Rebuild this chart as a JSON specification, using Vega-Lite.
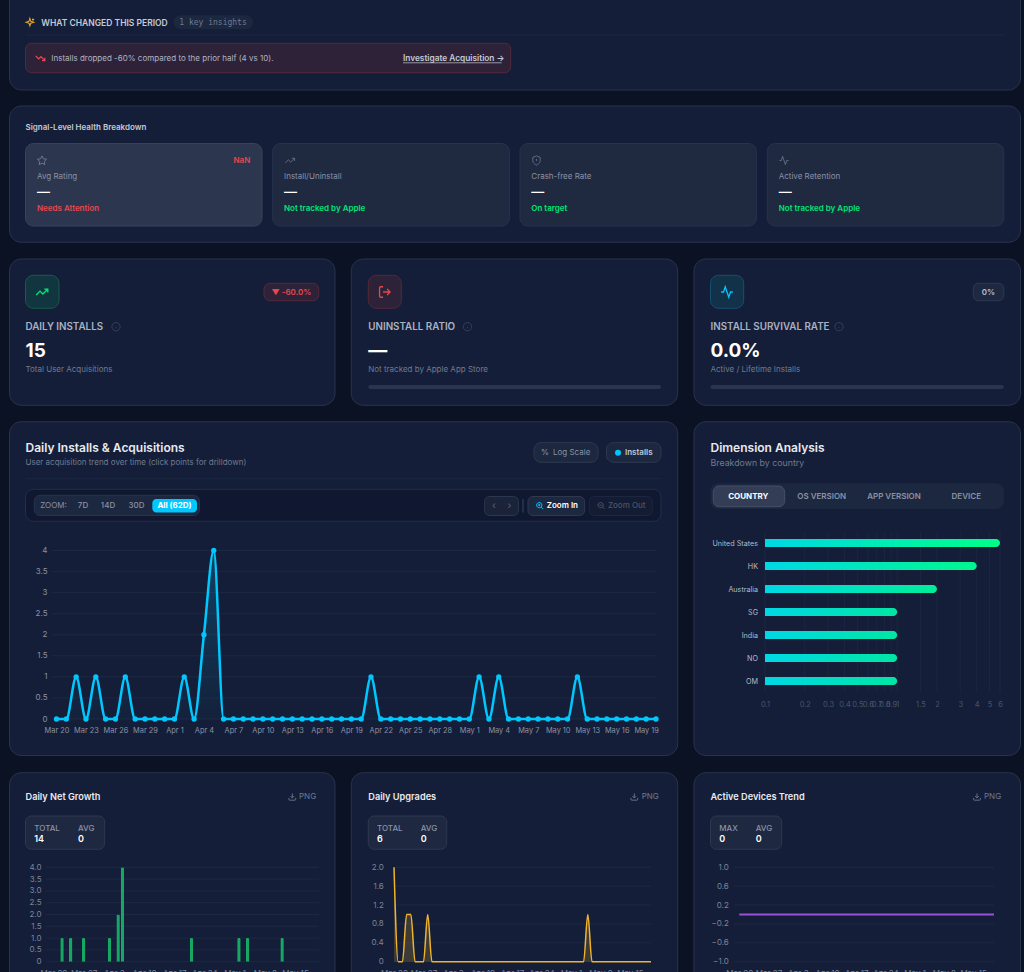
{
"$schema":"https://vega.github.io/schema/vega-lite/v6.json",
"width":1024,"height":972,"autosize":{"type":"none"},"padding":0,"background":"#0b1224",
"config":{
"view":{"stroke":null},
"text":{"font":"Inter","baseline":"middle","align":"left","fontSize":8,"dy":0.6},
"axis":{"labelFont":"Inter","labelFontSize":8,"labelColor":"#7c8598","domain":false,"ticks":false,"grid":false,"title":null,"labelOverlap":false,"labelBound":false,"labelFlush":false}
},
"datasets":{
"daily":[
{"date":"2025-03-20","installs":0,"upgrades":2,"active":0},{"date":"2025-03-21","installs":0,"upgrades":0,"active":0},{"date":"2025-03-22","installs":1,"upgrades":0,"active":0},{"date":"2025-03-23","installs":0,"upgrades":1,"active":0},{"date":"2025-03-24","installs":1,"upgrades":1,"active":0},{"date":"2025-03-25","installs":0,"upgrades":0,"active":0},{"date":"2025-03-26","installs":0,"upgrades":0,"active":0},{"date":"2025-03-27","installs":1,"upgrades":0,"active":0},{"date":"2025-03-28","installs":0,"upgrades":1,"active":0},{"date":"2025-03-29","installs":0,"upgrades":0,"active":0},{"date":"2025-03-30","installs":0,"upgrades":0,"active":0},{"date":"2025-03-31","installs":0,"upgrades":0,"active":0},
{"date":"2025-04-01","installs":0,"upgrades":0,"active":0},{"date":"2025-04-02","installs":1,"upgrades":0,"active":0},{"date":"2025-04-03","installs":0,"upgrades":0,"active":0},{"date":"2025-04-04","installs":2,"upgrades":0,"active":0},{"date":"2025-04-05","installs":4,"upgrades":0,"active":0},{"date":"2025-04-06","installs":0,"upgrades":0,"active":0},{"date":"2025-04-07","installs":0,"upgrades":0,"active":0},{"date":"2025-04-08","installs":0,"upgrades":0,"active":0},{"date":"2025-04-09","installs":0,"upgrades":0,"active":0},{"date":"2025-04-10","installs":0,"upgrades":0,"active":0},{"date":"2025-04-11","installs":0,"upgrades":0,"active":0},{"date":"2025-04-12","installs":0,"upgrades":0,"active":0},{"date":"2025-04-13","installs":0,"upgrades":0,"active":0},{"date":"2025-04-14","installs":0,"upgrades":0,"active":0},{"date":"2025-04-15","installs":0,"upgrades":0,"active":0},{"date":"2025-04-16","installs":0,"upgrades":0,"active":0},{"date":"2025-04-17","installs":0,"upgrades":0,"active":0},{"date":"2025-04-18","installs":0,"upgrades":0,"active":0},{"date":"2025-04-19","installs":0,"upgrades":0,"active":0},{"date":"2025-04-20","installs":0,"upgrades":0,"active":0},{"date":"2025-04-21","installs":1,"upgrades":0,"active":0},{"date":"2025-04-22","installs":0,"upgrades":0,"active":0},{"date":"2025-04-23","installs":0,"upgrades":0,"active":0},{"date":"2025-04-24","installs":0,"upgrades":0,"active":0},{"date":"2025-04-25","installs":0,"upgrades":0,"active":0},{"date":"2025-04-26","installs":0,"upgrades":0,"active":0},{"date":"2025-04-27","installs":0,"upgrades":0,"active":0},{"date":"2025-04-28","installs":0,"upgrades":0,"active":0},{"date":"2025-04-29","installs":0,"upgrades":0,"active":0},{"date":"2025-04-30","installs":0,"upgrades":0,"active":0},
{"date":"2025-05-01","installs":0,"upgrades":0,"active":0},{"date":"2025-05-02","installs":1,"upgrades":0,"active":0},{"date":"2025-05-03","installs":0,"upgrades":0,"active":0},{"date":"2025-05-04","installs":1,"upgrades":0,"active":0},{"date":"2025-05-05","installs":0,"upgrades":1,"active":0},{"date":"2025-05-06","installs":0,"upgrades":0,"active":0},{"date":"2025-05-07","installs":0,"upgrades":0,"active":0},{"date":"2025-05-08","installs":0,"upgrades":0,"active":0},{"date":"2025-05-09","installs":0,"upgrades":0,"active":0},{"date":"2025-05-10","installs":0,"upgrades":0,"active":0},{"date":"2025-05-11","installs":0,"upgrades":0,"active":0},{"date":"2025-05-12","installs":1,"upgrades":0,"active":0},{"date":"2025-05-13","installs":0,"upgrades":0,"active":0},{"date":"2025-05-14","installs":0,"upgrades":0,"active":0},{"date":"2025-05-15","installs":0,"upgrades":0,"active":0},{"date":"2025-05-16","installs":0,"upgrades":0,"active":0},{"date":"2025-05-17","installs":0,"upgrades":0,"active":0},{"date":"2025-05-18","installs":0,"upgrades":0,"active":0},{"date":"2025-05-19","installs":0,"upgrades":0,"active":0},{"date":"2025-05-20","installs":0,"upgrades":0,"active":0}
],
"countries":[{"country":"United States","value":6},{"country":"HK","value":4},{"country":"Australia","value":2},{"country":"SG","value":1},{"country":"India","value":1},{"country":"NO","value":1},{"country":"OM","value":1}]
},
"resolve":{"scale":{"x":"independent","y":"independent"},"axis":{"x":"independent","y":"independent"}},
"layer":[
{
"data":{"values":[{"col":0,"row":0}]},
"encoding":{
"x":{"field":"col","type":"quantitative","axis":null,"scale":{"nice":false,"zero":false,
"domain":[0,1,2,3,4,5,6,7,8,9,10,11,12,13,14,15,16,17,18,19,20,21,22,23,24,25,26,27,28,29,30,31,32,33,34,35,36,37,38,39,40,41,42,43,44,45,46,47,48,49,50,51,52,53,54,55,56,57,58,59,60,61,62,63,64,65,66,67,68,69,70,71,72,73,74,75,76,77,78,79,80,81,82,83,84,85,86,87,88,89,90,91,92,93,94,95],
"range":[9.5,25.5,30.3,34.3,37,40.3,41.3,42,51.3,59,78,83,104.7,108,116,136.5,152.3,173.7,174.5,179.3,197,199.5,250.3,253,262,264,272.7,284,290,291.4,292.3,299,318.7,335,351.3,368.3,377,384.8,401.3,403,420.7,446.7,467.5,484.6,494,501.7,509.4,510.7,518.4,520,523,528,531.3,534,536.5,539.6,545,546.7,553,584.6,589.4,598,601,606.5,607.9,618,625,634.3,641.7,652.4,661,677.7,694,710.5,713.3,719.3,727,743.7,748.3,755.7,756.3,767.3,778.7,781.7,784,784.7,821.7,839,894,966.3,973.3,977,984,988.5,1003.8,1020.5]}},
"y":{"field":"row","type":"quantitative","axis":null,"scale":{"nice":false,"zero":false,
"domain":[0,1,2,3,4,5,6,7,8,9,10,11,12,13,14,15,16,17,18,19,20,21,22,23,24,25,26,27,28,29,30,31,32,33,34,35,36,37,38,39,40,41,42,43,44,45,46,47,48,49,50,51,52,53,54,55,56],
"range":[-20,15.3,22,29.3,35,43.3,58.3,62.8,72.7,90,106,127.7,143.5,160.5,176.5,191.5,208.8,226,242.3,259,275.3,283.3,292,300.7,308.3,326.7,350.5,369,385,389,405.3,421.7,442.7,447.3,452.7,462.3,478.7,483.3,486,489.3,495.3,496.5,499,505.5,506.7,509,512.5,515.5,521.3,755.5,772.7,796.8,816,828,838.7,849.3,1000]}}
},
"layer":[
{"encoding":{"x2":{"field":"col2"},"y2":{"field":"row2"}},"layer":[
{"data":{"values":[{"name":"insights","col":0,"col2":95,"row":0,"row2":9},{"name":"signals","col":0,"col2":95,"row":10,"row2":18},{"name":"installs kpi","col":0,"col2":33,"row":19,"row2":30},{"name":"uninstall kpi","col":34,"col2":71,"row":19,"row2":30},{"name":"survival kpi","col":72,"col2":95,"row":19,"row2":30},{"name":"main chart","col":0,"col2":71,"row":31,"row2":49},{"name":"dimension","col":72,"col2":95,"row":31,"row2":49},{"name":"net growth","col":0,"col2":33,"row":50,"row2":56},{"name":"upgrades","col":34,"col2":71,"row":50,"row2":56},{"name":"devices","col":72,"col2":95,"row":50,"row2":56}]},"mark":{"type":"rect","fill":"#141e38","stroke":"#28334d","strokeWidth":1,"cornerRadius":12}},
{"data":{"values":[{"name":"alert","col":1,"col2":47,"row":5,"row2":8},{"name":"delta","col":25,"col2":32,"row":21,"row2":23}]},"mark":{"type":"rect","fill":"#2e2238","stroke":"#55293d","strokeWidth":1,"cornerRadius":6}},
{"data":{"values":[{"name":"pill","col":17,"col2":23,"row":1,"row2":3}]},"mark":{"type":"rect","fill":"#1c2740","cornerRadius":7}},
{"data":{"values":[{"name":"rating","col":1,"col2":24,"row":12,"row2":17}]},"mark":{"type":"rect","fill":"#2c364e","stroke":"#38425a","cornerRadius":8}},
{"data":{"values":[{"name":"ratio","col":26,"col2":46,"row":12,"row2":17},{"name":"crash","col":49,"col2":80,"row":12,"row2":17},{"name":"retention","col":81,"col2":94,"row":12,"row2":17}]},"mark":{"type":"rect","fill":"#1f2940","stroke":"#283350","cornerRadius":8}},
{"data":{"values":[{"name":"green tile","col":1,"col2":9,"row":20,"row2":24}]},"mark":{"type":"rect","fill":"#12363f","stroke":"#1a5a4c","cornerRadius":8}},
{"data":{"values":[{"name":"red tile","col":35,"col2":38,"row":20,"row2":24}]},"mark":{"type":"rect","fill":"#2d2238","stroke":"#55283a","cornerRadius":8}},
{"data":{"values":[{"name":"blue tile","col":73,"col2":77,"row":20,"row2":24}]},"mark":{"type":"rect","fill":"#12324a","stroke":"#17506e","cornerRadius":8}},
{"data":{"values":[{"name":"zero badge","col":90,"col2":94,"row":21,"row2":23}]},"mark":{"type":"rect","fill":"#1e2840","stroke":"#2e3950","cornerRadius":5}},
{"data":{"values":[{"name":"track b","col":35,"col2":70,"row":28,"row2":29},{"name":"track c","col":73,"col2":94,"row":28,"row2":29}]},"mark":{"type":"rect","fill":"#2a3450","cornerRadius":2}},
{"data":{"values":[{"name":"log","col":53,"col2":61,"row":32,"row2":35},{"name":"series","col":63,"col2":70,"row":32,"row2":35}]},"mark":{"type":"rect","fill":"#1c2740","stroke":"#2e3950","cornerRadius":7}},
{"data":{"values":[{"name":"toolbar","col":1,"col2":70,"row":39,"row2":48}]},"mark":{"type":"rect","fill":"#0f1830","stroke":"#232e48","cornerRadius":8}},
{"data":{"values":[{"name":"zoom group","col":3,"col2":21,"row":40,"row2":47}]},"mark":{"type":"rect","fill":"#1c2740","stroke":"#283350","cornerRadius":6}},
{"data":{"values":[{"name":"all","col":16,"col2":20,"row":42,"row2":46}]},"mark":{"type":"rect","fill":"#00c8ff","cornerRadius":4}},
{"data":{"values":[{"name":"pager","col":43,"col2":48,"row":41,"row2":47}]},"mark":{"type":"rect","fill":"#1a2338","stroke":"#2b3650","cornerRadius":5}},
{"data":{"values":[{"name":"sep","col":50,"col2":50,"row":42,"row2":46}]},"mark":{"type":"rect","stroke":"#2b3650"}},
{"data":{"values":[{"name":"zoom in","col":51,"col2":59,"row":41,"row2":47}]},"mark":{"type":"rect","fill":"#1c2740","stroke":"#2e3950","cornerRadius":5}},
{"data":{"values":[{"name":"zoom out","col":60,"col2":69,"row":41,"row2":47}]},"mark":{"type":"rect","fill":"#131c33","stroke":"#1c2640","cornerRadius":5}},
{"data":{"values":[{"name":"tabs","col":73,"col2":94,"row":37,"row2":45}]},"mark":{"type":"rect","fill":"#1c2740","cornerRadius":8}},
{"data":{"values":[{"name":"tab on","col":74,"col2":85,"row":38,"row2":44}]},"mark":{"type":"rect","fill":"#333d56","stroke":"#454f68","cornerRadius":6}},
{"data":{"values":[{"name":"stat a","col":1,"col2":12,"row":52,"row2":55},{"name":"stat b","col":35,"col2":41,"row":52,"row2":55},{"name":"stat c","col":73,"col2":83,"row":52,"row2":55}]},"mark":{"type":"rect","fill":"#1e2840","stroke":"#2e3950","cornerRadius":6}}
]},
{"encoding":{"x2":{"field":"col2"}},"layer":[
{"data":{"values":[{"name":"insights rule","col":1,"col2":94,"row":4},{"name":"main rule","col":1,"col2":70,"row":36}]},"mark":{"type":"rule","color":"#1c2740","strokeWidth":1}},
{"data":{"values":[{"name":"link underline","col":39,"col2":45,"row":7}]},"mark":{"type":"rule","color":"#c5cad6","strokeWidth":0.7}}
]},
{"encoding":{"text":{"field":"label"}},"layer":[
{"data":{"values":[{"label":"WHAT CHANGED THIS PERIOD","col":6,"row":2}]},"mark":{"type":"text","fontSize":8.5,"fontWeight":600,"color":"#c5cad6"}},
{"data":{"values":[{"label":"Investigate Acquisition →","col":39,"row":6}]},"mark":{"type":"text","fontSize":8.3,"fontWeight":600,"color":"#c5cad6"}},
{"data":{"values":[{"label":"Signal-Level Health Breakdown","col":1,"row":11}]},"mark":{"type":"text","fontWeight":600,"color":"#c5cad6"}},
{"data":{"values":[{"label":"1 key insights","col":19,"row":2}]},"mark":{"type":"text","font":"DejaVu Sans Mono","color":"#6f7a90"}},
{"data":{"values":[{"label":"Installs dropped -60% compared to the prior half (4 vs 10).","col":8,"row":6}]},"mark":{"type":"text","color":"#aeb4c4"}},
{"data":{"values":[{"label":"Avg Rating","col":4,"row":14},{"label":"Install/Uninstall","col":27,"row":14},{"label":"Crash-free Rate","col":52,"row":14},{"label":"Active Retention","col":82,"row":14},{"label":"Log Scale","col":58,"row":34},{"label":"ZOOM:","col":5,"row":43}]},"mark":{"type":"text","color":"#8a92a6"}},
{"data":{"values":[{"label":"—","col":4,"row":15},{"label":"—","col":27,"row":15},{"label":"—","col":52,"row":15},{"label":"—","col":82,"row":15}]},"mark":{"type":"text","fontSize":13,"fontWeight":600,"color":"#ffffff"}},
{"data":{"values":[{"label":"Needs Attention","col":4,"row":16}]},"mark":{"type":"text","fontWeight":600,"color":"#e5484d"}},
{"data":{"values":[{"label":"NaN","col":22,"row":13}]},"mark":{"type":"text","align":"right","fontWeight":600,"color":"#e5484d"}},
{"data":{"values":[{"label":"▼ -60.0%","col":29,"row":22}]},"mark":{"type":"text","align":"center","fontWeight":600,"color":"#e5484d"}},
{"data":{"values":[{"label":"0%","col":93,"row":22}]},"mark":{"type":"text","align":"center","fontWeight":600,"color":"#b8bfcc"}},
{"data":{"values":[{"label":"Not tracked by Apple","col":27,"row":16},{"label":"On target","col":52,"row":16},{"label":"Not tracked by Apple","col":82,"row":16}]},"mark":{"type":"text","fontWeight":600,"color":"#00e676"}},
{"data":{"values":[{"label":"DAILY INSTALLS","col":1,"row":25},{"label":"UNINSTALL RATIO","col":35,"row":25},{"label":"INSTALL SURVIVAL RATE","col":73,"row":25}]},"mark":{"type":"text","fontSize":9.8,"fontWeight":600,"color":"#aab2c2"}},
{"data":{"values":[{"label":"15","col":1,"row":26},{"label":"—","col":35,"row":26},{"label":"0.0%","col":73,"row":26}]},"mark":{"type":"text","fontSize":19,"fontWeight":700,"color":"#ffffff"}},
{"data":{"values":[{"label":"Total User Acquisitions","col":1,"row":27},{"label":"Not tracked by Apple App Store","col":35,"row":27},{"label":"Active / Lifetime Installs","col":73,"row":27},{"label":"User acquisition trend over time (click points for drilldown)","col":1,"row":35},{"label":"PNG","col":31,"row":51},{"label":"PNG","col":68,"row":51},{"label":"PNG","col":92,"row":51}]},"mark":{"type":"text","color":"#6f7a90"}},
{"data":{"values":[{"label":"Breakdown by country","col":73,"row":35}]},"mark":{"type":"text","fontSize":8.8,"color":"#6f7a90"}},
{"data":{"values":[{"label":"Daily Installs & Acquisitions","col":1,"row":33},{"label":"Dimension Analysis","col":73,"row":33}]},"mark":{"type":"text","fontSize":12,"fontWeight":600,"color":"#e8eaf0"}},
{"data":{"values":[{"label":"Installs","col":66,"row":34}]},"mark":{"type":"text","fontWeight":600,"color":"#c5cad6"}},
{"data":{"values":[{"label":"OS VERSION","col":86,"row":41},{"label":"APP VERSION","col":88,"row":41},{"label":"DEVICE","col":89,"row":41}]},"mark":{"type":"text","align":"center","fontWeight":600,"color":"#8a92a6"}},
{"data":{"values":[{"label":"7D","col":11,"row":43},{"label":"14D","col":13,"row":43},{"label":"30D","col":15,"row":43},{"label":"%","col":56,"row":34}]},"mark":{"type":"text","align":"center","fontWeight":500,"color":"#8a92a6"}},
{"data":{"values":[{"label":"COUNTRY","col":78,"row":41},{"label":"All (62D)","col":18,"row":43}]},"mark":{"type":"text","align":"center","fontWeight":700,"color":"#ffffff"}},
{"data":{"values":[{"label":"‹","col":44,"row":43},{"label":"›","col":46,"row":43}]},"mark":{"type":"text","align":"center","fontSize":10,"color":"#5a6478"}},
{"data":{"values":[{"label":"Zoom In","col":57,"row":43}]},"mark":{"type":"text","fontWeight":600,"color":"#ffffff"}},
{"data":{"values":[{"label":"Zoom Out","col":64,"row":43}]},"mark":{"type":"text","fontWeight":500,"color":"#4a5468"}},
{"data":{"values":[{"label":"Daily Net Growth","col":1,"row":51},{"label":"Daily Upgrades","col":35,"row":51},{"label":"Active Devices Trend","col":73,"row":51}]},"mark":{"type":"text","fontSize":9.2,"fontWeight":600,"color":"#e8eaf0"}},
{"data":{"values":[{"label":"TOTAL","col":3,"row":53},{"label":"AVG","col":10,"row":53},{"label":"TOTAL","col":36,"row":53},{"label":"AVG","col":40,"row":53},{"label":"MAX","col":75,"row":53},{"label":"AVG","col":79,"row":53}]},"mark":{"type":"text","fontWeight":500,"color":"#8a92a6"}},
{"data":{"values":[{"label":"14","col":3,"row":54},{"label":"0","col":10,"row":54},{"label":"6","col":36,"row":54},{"label":"0","col":40,"row":54},{"label":"0","col":75,"row":54},{"label":"0","col":79,"row":54}]},"mark":{"type":"text","fontSize":9,"fontWeight":600,"color":"#ffffff"}}
]},
{"layer":[
{"data":{"values":[{"icon":"sparkles","col":2,"row":2}]},"mark":{"type":"point","shape":"M-0.1 -0.8 L0.1 -0.15 L0.75 0.05 L0.1 0.25 L-0.1 0.85 L-0.3 0.25 L-0.9 0.05 L-0.3 -0.15 Z M0.6 -0.8 L0.6 -0.3 M0.35 -0.55 L0.85 -0.55","size":81,"filled":false,"stroke":"#e6a823","strokeWidth":1.1,"opacity":1}},
{"data":{"values":[{"icon":"alert trend","col":5,"row":6}]},"mark":{"type":"point","shape":"M0.83 0.42 L0.125 -0.29 L-0.29 0.125 L-0.83 -0.42 M0.33 0.42 L0.83 0.42 L0.83 -0.08","size":121,"filled":false,"stroke":"#e5484d","strokeWidth":1.2,"opacity":1}},
{"data":{"values":[{"icon":"star","col":7,"row":13}]},"mark":{"type":"point","shape":"M0 -0.83 L0.26 -0.31 L0.83 -0.23 L0.42 0.18 L0.52 0.75 L0 0.48 L-0.52 0.75 L-0.42 0.18 L-0.83 -0.23 L-0.26 -0.31 Z","size":121,"filled":false,"stroke":"#7c8598","strokeWidth":0.8,"opacity":1}},
{"data":{"values":[{"icon":"trend","col":28,"row":13}]},"mark":{"type":"point","shape":"M0.83 -0.42 L0.125 0.29 L-0.29 -0.125 L-0.83 0.42 M0.33 -0.42 L0.83 -0.42 L0.83 0.08","size":121,"filled":false,"stroke":"#6f7a90","strokeWidth":0.8,"opacity":1}},
{"data":{"values":[{"icon":"shield","col":54,"row":13}]},"mark":{"type":"point","shape":"M0 0.83 C0.6 0.55 0.67 0.2 0.67 0 L0.67 -0.58 L0 -0.83 L-0.67 -0.58 L-0.67 0 C-0.67 0.2 -0.6 0.55 0 0.83 Z M0 -0.3 L0 0.08 M0 0.35 L0 0.37","size":121,"filled":false,"stroke":"#6f7a90","strokeWidth":0.8,"opacity":1}},
{"data":{"values":[{"icon":"activity","col":84,"row":13}]},"mark":{"type":"point","shape":"M0.83 0 L0.5 0 L0.25 0.75 L-0.25 -0.75 L-0.5 0 L-0.83 0","size":121,"filled":false,"stroke":"#6f7a90","strokeWidth":0.8,"opacity":1}},
{"data":{"values":[{"icon":"installs","col":7,"row":22}]},"mark":{"type":"point","shape":"M0.83 -0.42 L0.125 0.29 L-0.29 -0.125 L-0.83 0.42 M0.33 -0.42 L0.83 -0.42 L0.83 0.08","size":196,"filled":false,"stroke":"#00e676","strokeWidth":1.3,"opacity":1}},
{"data":{"values":[{"icon":"uninstall","col":37,"row":22}]},"mark":{"type":"point","shape":"M-0.25 0.75 L-0.58 0.75 Q-0.75 0.75 -0.75 0.58 L-0.75 -0.58 Q-0.75 -0.75 -0.58 -0.75 L-0.25 -0.75 M0.33 0.42 L0.75 0 L0.33 -0.42 M0.75 0 L-0.25 0","size":196,"filled":false,"stroke":"#e5484d","strokeWidth":1.3,"opacity":1}},
{"data":{"values":[{"icon":"survival","col":76,"row":22}]},"mark":{"type":"point","shape":"M0.83 0 L0.5 0 L0.25 0.75 L-0.25 -0.75 L-0.5 0 L-0.83 0","size":196,"filled":false,"stroke":"#00c8ff","strokeWidth":1.3,"opacity":1}},
{"data":{"values":[{"icon":"info","col":14,"row":25},{"icon":"info","col":42,"row":25},{"icon":"info","col":87,"row":25}]},"mark":{"type":"point","shape":"M0.83 0 A0.83 0.83 0 1 1 -0.83 0 A0.83 0.83 0 1 1 0.83 0 Z M0 0.33 L0 0 M0 -0.33 L0.01 -0.33","size":100,"filled":false,"stroke":"#3c4660","strokeWidth":0.8,"opacity":1}},
{"data":{"values":[{"icon":"download","col":30,"row":51},{"icon":"download","col":67,"row":51},{"icon":"download","col":91,"row":51}]},"mark":{"type":"point","shape":"M-0.75 0.25 L-0.75 0.58 Q-0.75 0.75 -0.58 0.75 L0.58 0.75 Q0.75 0.75 0.75 0.58 L0.75 0.25 M-0.42 -0.17 L0 0.25 L0.42 -0.17 M0 0.25 L0 -0.75","size":81,"filled":false,"stroke":"#6f7a90","strokeWidth":0.9,"opacity":1}},
{"data":{"values":[{"icon":"series dot","col":65,"row":34}]},"mark":{"type":"circle","size":36,"color":"#00c8ff","opacity":1}},
{"data":{"values":[{"icon":"zoom in","col":55,"row":43}]},"mark":{"type":"point","shape":"M0.5 -0.08 A0.58 0.58 0 1 1 -0.66 -0.08 A0.58 0.58 0 1 1 0.5 -0.08 Z M0.75 0.75 L0.33 0.33 M-0.08 -0.33 L-0.08 0.17 M-0.33 -0.08 L0.17 -0.08","size":81,"filled":false,"stroke":"#00c8ff","strokeWidth":1,"opacity":1}},
{"data":{"values":[{"icon":"zoom out","col":62,"row":43}]},"mark":{"type":"point","shape":"M0.5 -0.08 A0.58 0.58 0 1 1 -0.66 -0.08 A0.58 0.58 0 1 1 0.5 -0.08 Z M0.75 0.75 L0.33 0.33 M-0.33 -0.08 L0.17 -0.08","size":81,"filled":false,"stroke":"#4a5468","strokeWidth":1,"opacity":1}}
]}
]
},
{
"encoding":{
"x":{"field":"date","type":"temporal","title":null,"scale":{"type":"utc","domain":["2025-03-19T13:00:00Z","2025-05-20T00:00:00Z"],"range":[52,656]},
"axis":{"zindex":1,"orient":"bottom","offset":-253,"labelPadding":7,"labelFontSize":7.4,"labelColor":"#8a92a6","labelExpr":"utcFormat(datum.value,'%b %-d')","values":["2025-03-20T00:00:00Z","2025-03-23T00:00:00Z","2025-03-26T00:00:00Z","2025-03-29T00:00:00Z","2025-04-01T00:00:00Z","2025-04-04T00:00:00Z","2025-04-07T00:00:00Z","2025-04-10T00:00:00Z","2025-04-13T00:00:00Z","2025-04-16T00:00:00Z","2025-04-19T00:00:00Z","2025-04-22T00:00:00Z","2025-04-25T00:00:00Z","2025-04-28T00:00:00Z","2025-05-01T00:00:00Z","2025-05-04T00:00:00Z","2025-05-07T00:00:00Z","2025-05-10T00:00:00Z","2025-05-13T00:00:00Z","2025-05-16T00:00:00Z","2025-05-19T00:00:00Z"]}},
"y":{"field":"installs","type":"quantitative","title":null,"scale":{"domain":[0,4],"range":[719,550.5],"nice":false},
"axis":{"zindex":1,"orient":"left","offset":-52,"labelPadding":5,"labelColor":"#8a92a6","format":"~g","values":[0,0.5,1,1.5,2,2.5,3,3.5,4]}}
},
"layer":[
{"data":{"values":[{"installs":0,"date":"2025-03-19T13:00:00Z","end":"2025-05-20T00:00:00Z"},{"installs":0.5,"date":"2025-03-19T13:00:00Z","end":"2025-05-20T00:00:00Z"},{"installs":1,"date":"2025-03-19T13:00:00Z","end":"2025-05-20T00:00:00Z"},{"installs":1.5,"date":"2025-03-19T13:00:00Z","end":"2025-05-20T00:00:00Z"},{"installs":2,"date":"2025-03-19T13:00:00Z","end":"2025-05-20T00:00:00Z"},{"installs":2.5,"date":"2025-03-19T13:00:00Z","end":"2025-05-20T00:00:00Z"},{"installs":3,"date":"2025-03-19T13:00:00Z","end":"2025-05-20T00:00:00Z"},{"installs":3.5,"date":"2025-03-19T13:00:00Z","end":"2025-05-20T00:00:00Z"},{"installs":4,"date":"2025-03-19T13:00:00Z","end":"2025-05-20T00:00:00Z"}],"format":{"parse":{"date":"date","end":"date"}}},
"mark":{"type":"rule","color":"#1d2842","strokeWidth":1},
"encoding":{"x2":{"field":"end"}}},
{"data":{"name":"daily"},"mark":{"type":"area","interpolate":"monotone","color":{"gradient":"linear","x1":0,"y1":1,"x2":0,"y2":0,"stops":[{"offset":0,"color":"rgba(0,200,255,0.02)"},{"offset":1,"color":"rgba(0,200,255,0.2)"}]}}},
{"data":{"name":"daily"},"mark":{"type":"line","interpolate":"monotone","color":"#00c8ff","strokeWidth":2.5}},
{"data":{"name":"daily"},"mark":{"type":"circle","size":28,"color":"#00c8ff","opacity":1}}
]
},
{
"encoding":{
"y":{"field":"country","type":"nominal","title":null,"sort":null,"scale":{"type":"band","domain":["United States","HK","Australia","SG","India","NO","OM"],"range":[531.5,692.5],"paddingInner":0,"paddingOuter":0},
"axis":{"zindex":1,"orient":"left","offset":-765,"labelPadding":7.5,"labelOffset":0.8,"labelFontSize":7.2,"labelColor":"#b4bac8"}},
"x":{"field":"value","type":"quantitative","title":null,"scale":{"type":"log","domain":[0.1,6],"range":[765,1000],"nice":false,"padding":0},
"axis":{"zindex":1,"orient":"bottom","offset":-280,"labelPadding":8,"labelFontSize":7.5,"labelColor":"#4a5468","format":"~g","values":[0.1,0.2,0.3,0.4,0.5,0.6,0.7,0.8,0.9,1,1.5,2,3,4,5,6]}}
},
"layer":[
{"data":{"values":[{"value":0.1},{"value":0.2},{"value":0.3},{"value":0.4},{"value":0.5},{"value":0.6},{"value":0.7},{"value":0.8},{"value":0.9},{"value":1},{"value":1.5},{"value":2},{"value":3},{"value":4},{"value":5},{"value":6}]},
"mark":{"type":"rule","color":"#1c2640","strokeWidth":1,"yOffset":-11.5,"y2Offset":11.5},
"encoding":{
"y":{"datum":"United States","type":"nominal","title":null,"scale":{"type":"band","domain":["United States","HK","Australia","SG","India","NO","OM"],"range":[531.5,692.5],"paddingInner":0,"paddingOuter":0}},
"y2":{"datum":"OM"}}},
{"data":{"name":"countries"},"transform":[{"filter":"datum.value==6"}],"encoding":{"x2":{"datum":0.1}},"mark":{"type":"bar","size":8,"cornerRadiusTopRight":4,"cornerRadiusBottomRight":4,"color":{"gradient":"linear","x1":0,"y1":0,"x2":1,"y2":0,"stops":[{"offset":0,"color":"#00d8e4"},{"offset":1,"color":"#00ff88"}]}}},
{"data":{"name":"countries"},"transform":[{"filter":"datum.value==4"}],"encoding":{"x2":{"datum":0.1}},"mark":{"type":"bar","size":8,"cornerRadiusTopRight":4,"cornerRadiusBottomRight":4,"color":{"gradient":"linear","x1":0,"y1":0,"x2":1,"y2":0,"stops":[{"offset":0,"color":"#00d8e4"},{"offset":1,"color":"#00f78e"}]}}},
{"data":{"name":"countries"},"transform":[{"filter":"datum.value==2"}],"encoding":{"x2":{"datum":0.1}},"mark":{"type":"bar","size":8,"cornerRadiusTopRight":4,"cornerRadiusBottomRight":4,"color":{"gradient":"linear","x1":0,"y1":0,"x2":1,"y2":0,"stops":[{"offset":0,"color":"#00d8e4"},{"offset":1,"color":"#00ee98"}]}}},
{"data":{"name":"countries"},"transform":[{"filter":"datum.value==1"}],"encoding":{"x2":{"datum":0.1}},"mark":{"type":"bar","size":8,"cornerRadiusTopRight":4,"cornerRadiusBottomRight":4,"color":{"gradient":"linear","x1":0,"y1":0,"x2":1,"y2":0,"stops":[{"offset":0,"color":"#00d8e4"},{"offset":1,"color":"#00e6a4"}]}}}
]
},
{
"encoding":{
"x":{"field":"date","type":"temporal","title":null,"scale":{"type":"utc","domain":["2025-03-18T05:17:00Z","2025-05-20T13:26:00Z"],"range":[45.7,319],"padding":0},
"axis":{"zindex":1,"orient":"bottom","offset":-10,"labelPadding":7,"labelExpr":"utcFormat(datum.value,'%b %-d')","values":["2025-03-20T00:00:00Z","2025-03-27T00:00:00Z","2025-04-03T00:00:00Z","2025-04-10T00:00:00Z","2025-04-17T00:00:00Z","2025-04-24T00:00:00Z","2025-05-01T00:00:00Z","2025-05-08T00:00:00Z","2025-05-15T00:00:00Z"]}},
"y":{"field":"installs","type":"quantitative","title":null,"scale":{"domain":[0,4],"range":[961.7,867.3],"nice":false},
"axis":{"zindex":1,"orient":"left","offset":-45.7,"labelPadding":4.7,"labelExpr":"datum.value==0?'0':format(datum.value,'.1f')","values":[0,0.5,1,1.5,2,2.5,3,3.5,4]}}
},
"layer":[
{"data":{"values":[{"installs":0,"date":"2025-03-18T05:17:00Z","end":"2025-05-20T13:26:00Z"},{"installs":0.5,"date":"2025-03-18T05:17:00Z","end":"2025-05-20T13:26:00Z"},{"installs":1,"date":"2025-03-18T05:17:00Z","end":"2025-05-20T13:26:00Z"},{"installs":1.5,"date":"2025-03-18T05:17:00Z","end":"2025-05-20T13:26:00Z"},{"installs":2,"date":"2025-03-18T05:17:00Z","end":"2025-05-20T13:26:00Z"},{"installs":2.5,"date":"2025-03-18T05:17:00Z","end":"2025-05-20T13:26:00Z"},{"installs":3,"date":"2025-03-18T05:17:00Z","end":"2025-05-20T13:26:00Z"},{"installs":3.5,"date":"2025-03-18T05:17:00Z","end":"2025-05-20T13:26:00Z"},{"installs":4,"date":"2025-03-18T05:17:00Z","end":"2025-05-20T13:26:00Z"}],"format":{"parse":{"date":"date","end":"date"}}},
"mark":{"type":"rule","color":"#1d2842","strokeWidth":1},
"encoding":{"x2":{"field":"end"}}},
{"data":{"name":"daily"},"mark":{"type":"bar","size":3.5,"color":"#17a765","cornerRadiusTopLeft":1.5,"cornerRadiusTopRight":1.5}}
]
},
{
"encoding":{
"x":{"field":"date","type":"temporal","title":null,"scale":{"type":"utc","domain":["2025-03-20T00:00:00Z","2025-05-20T00:00:00Z"],"range":[394,651]},
"axis":{"zindex":1,"orient":"bottom","offset":-10,"labelPadding":7,"labelExpr":"utcFormat(datum.value,'%b %-d')","values":["2025-03-20T00:00:00Z","2025-03-27T00:00:00Z","2025-04-03T00:00:00Z","2025-04-10T00:00:00Z","2025-04-17T00:00:00Z","2025-04-24T00:00:00Z","2025-05-01T00:00:00Z","2025-05-08T00:00:00Z","2025-05-15T00:00:00Z"]}},
"y":{"field":"upgrades","type":"quantitative","title":null,"scale":{"domain":[0,2],"range":[961.7,867.3],"nice":false},
"axis":{"zindex":1,"orient":"left","offset":-394,"labelPadding":10.7,"labelExpr":"datum.value==0?'0':format(datum.value,'.1f')","values":[0,0.4,0.8,1.2,1.6,2]}}
},
"layer":[
{"data":{"values":[{"upgrades":0,"date":"2025-03-20T00:00:00Z","end":"2025-05-20T00:00:00Z"},{"upgrades":0.4,"date":"2025-03-20T00:00:00Z","end":"2025-05-20T00:00:00Z"},{"upgrades":0.8,"date":"2025-03-20T00:00:00Z","end":"2025-05-20T00:00:00Z"},{"upgrades":1.2,"date":"2025-03-20T00:00:00Z","end":"2025-05-20T00:00:00Z"},{"upgrades":1.6,"date":"2025-03-20T00:00:00Z","end":"2025-05-20T00:00:00Z"},{"upgrades":2,"date":"2025-03-20T00:00:00Z","end":"2025-05-20T00:00:00Z"}],"format":{"parse":{"date":"date","end":"date"}}},
"mark":{"type":"rule","color":"#1d2842","strokeWidth":1},
"encoding":{"x2":{"field":"end"}}},
{"data":{"name":"daily"},"mark":{"type":"area","interpolate":"monotone","color":"rgba(255,190,50,0.18)"}},
{"data":{"name":"daily"},"mark":{"type":"line","interpolate":"monotone","color":"#f0b429","strokeWidth":1.5}}
]
},
{
"encoding":{
"x":{"field":"date","type":"temporal","title":null,"scale":{"type":"utc","domain":["2025-03-18T19:12:00Z","2025-05-20T00:00:00Z"],"range":[734.3,994]},
"axis":{"zindex":1,"orient":"bottom","offset":-10,"labelPadding":7,"labelExpr":"utcFormat(datum.value,'%b %-d')","values":["2025-03-20T00:00:00Z","2025-03-27T00:00:00Z","2025-04-03T00:00:00Z","2025-04-10T00:00:00Z","2025-04-17T00:00:00Z","2025-04-24T00:00:00Z","2025-05-01T00:00:00Z","2025-05-08T00:00:00Z","2025-05-15T00:00:00Z"]}},
"y":{"field":"active","type":"quantitative","title":null,"scale":{"domain":[-1,1],"range":[961.7,867.3],"nice":false},
"axis":{"zindex":1,"orient":"left","offset":-734.3,"labelPadding":6,"format":".1f","values":[-1,-0.6,-0.2,0.2,0.6,1]}}
},
"layer":[
{"data":{"values":[{"active":-1,"date":"2025-03-18T19:12:00Z","end":"2025-05-20T00:00:00Z"},{"active":-0.6,"date":"2025-03-18T19:12:00Z","end":"2025-05-20T00:00:00Z"},{"active":-0.2,"date":"2025-03-18T19:12:00Z","end":"2025-05-20T00:00:00Z"},{"active":0.2,"date":"2025-03-18T19:12:00Z","end":"2025-05-20T00:00:00Z"},{"active":0.6,"date":"2025-03-18T19:12:00Z","end":"2025-05-20T00:00:00Z"},{"active":1,"date":"2025-03-18T19:12:00Z","end":"2025-05-20T00:00:00Z"}],"format":{"parse":{"date":"date","end":"date"}}},
"mark":{"type":"rule","color":"#1d2842","strokeWidth":1},
"encoding":{"x2":{"field":"end"}}},
{"data":{"name":"daily"},"mark":{"type":"line","color":"#9d4edd","strokeWidth":2}}
]
}
]
}
